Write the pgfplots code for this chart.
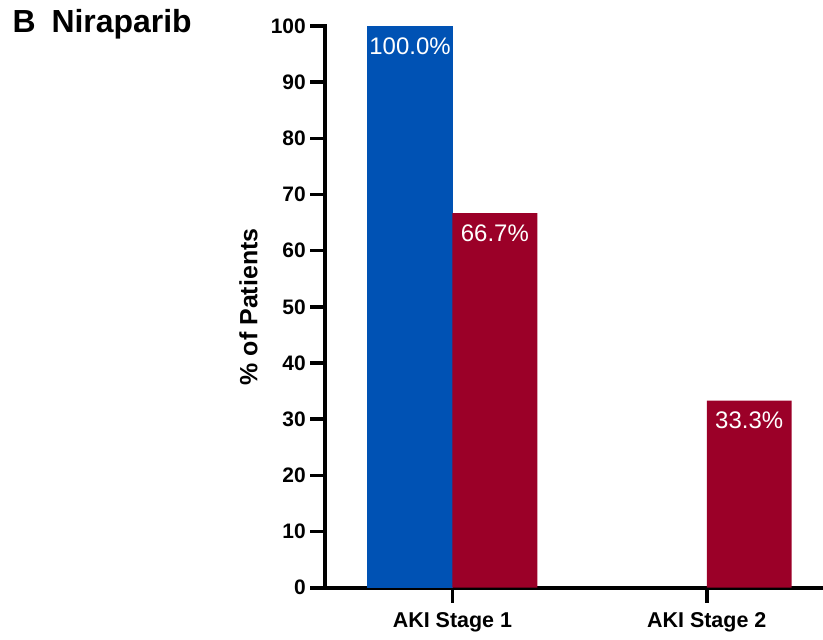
\documentclass[border=0pt]{standalone}
\usepackage{pgfplots}
\pgfplotsset{compat=1.18}
\usepackage{fontspec}
\setmainfont{Liberation Sans}

\definecolor{barblue}{RGB}{0,82,180}
\definecolor{barred}{RGB}{155,0,40}

\begin{document}
\begin{tikzpicture}
\begin{axis}[
  at={(0,0)}, anchor=south west,
  scale only axis,
  width=497pt, height=563pt,
  xmin=0.5, xmax=2.45,
  ymin=0, ymax=100,
  ybar=0pt, bar width=85pt,
  axis x line=bottom, axis y line=left,
  x axis line style={-, line width=3.6pt, line cap=rect},
  y axis line style={-, line width=3.6pt, line cap=rect},
  xtick style={black, line width=3.6pt},
  ytick style={black, line width=3.6pt},
  tick align=outside,
  major tick length=15pt,
  xtick={1,2},
  xticklabels={AKI Stage 1, AKI Stage 2},
  ytick={0,10,...,100},
  /pgf/number format/assume math mode=true,
  yticklabel style={font=\bfseries\fontsize{21}{23}\selectfont, xshift=-1pt},
  xticklabel style={font=\bfseries\fontsize{21.5}{23}\selectfont, yshift=-6pt},
  ylabel={\% of Patients},
  ylabel style={at={(axis description cs:-0.155,0.5)}, anchor=center,
    font=\bfseries\fontsize{25}{27}\selectfont},
  nodes near coords={\pgfmathprintnumber[fixed,precision=1,fixed zerofill]{\pgfplotspointmeta}\%},
  every node near coord/.append style={anchor=north, yshift=-8pt,
    text=white, font=\fontsize{24}{26}\selectfont},
  clip=false,
]
\addplot[fill=barblue, draw=barblue, line width=0.6pt] coordinates {(1,100)};
\addplot[fill=barred, draw=none] coordinates {(1,66.7) (2,33.3)};
\end{axis}
\node[anchor=base west, font=\bfseries\fontsize{32}{34}\selectfont]
  at (-317pt,556pt) {B\enspace Niraparib};
\path[use as bounding box] (-326pt,-52pt) rectangle (497pt,589pt);
\end{tikzpicture}
\end{document}
